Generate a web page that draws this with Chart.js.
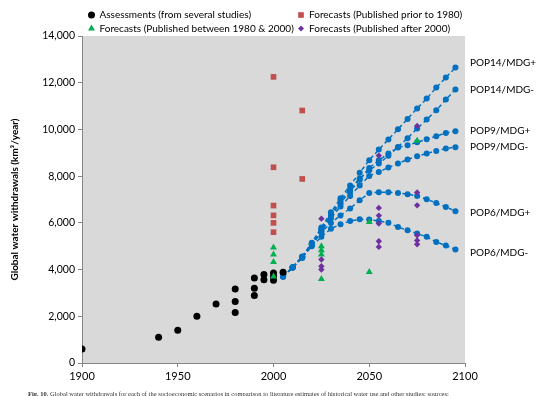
<!DOCTYPE html>
<html>
<head>
<meta charset="utf-8">
<script src="https://cdn.jsdelivr.net/npm/chart.js@4.4.1/dist/chart.umd.min.js"></script>
<style>
  html, body { margin: 0; padding: 0; background: #fff; }
  #wrap { position: relative; width: 540px; height: 396px; overflow: hidden; }
  #caption { position: absolute; left: 28px; top: 390px; white-space: nowrap;
    font: 6.5px "Liberation Serif", serif; color: #333; }
</style>
</head>
<body>
<div id="wrap">
  <canvas id="waterChart" width="540" height="396"></canvas>
  <div id="caption"><b>Fig. 10.</b> Global water withdrawals for each of the socioeconomic scenarios in comparison to literature estimates of historical water use and other studies; sources:</div>
</div>
<script>
// historical assessments
const assessYears = [1900, 1940, 1950, 1960, 1970, 1980, 1980, 1980, 1990, 1990, 1990, 1995, 1995, 2000, 2000, 2000, 2005];
const assessVals  = [600, 1100, 1400, 2000, 2530, 3170, 2630, 2160, 3640, 3200, 2890, 3790, 3560, 3850, 3700, 3540, 3890];

// forecasts published prior to 1980
const priorYears = [2000, 2000, 2000, 2000, 2000, 2000, 2015, 2015];
const priorVals  = [12250, 8380, 6740, 6320, 6000, 5600, 10810, 7880];

// forecasts published between 1980 & 2000
const midYears = [2000, 2000, 2000, 2000, 2025, 2025, 2025, 2025, 2050, 2050, 2075];
const midVals  = [4950, 4640, 4320, 3700, 5000, 4830, 4650, 3600, 6040, 3900, 9520];

// forecasts published after 2000
const lateYears = [2025, 2025, 2025, 2025, 2055, 2055, 2055, 2055, 2055, 2055, 2075, 2075, 2075, 2075, 2075, 2075];
const lateVals  = [6180, 4430, 4140, 4000, 8880, 6640, 6310, 5970, 5210, 4970, 10150, 7300, 6750, 5470, 5250, 5080];

// scenario years and values
const scenYears = [2005, 2010, 2015, 2020, 2025, 2030, 2035, 2040, 2045, 2050, 2055, 2060, 2065, 2070, 2075, 2080, 2085, 2090, 2095];
const pop14Plus  = [3700, 4100, 4560, 5150, 5800, 6450, 7050, 7600, 8150, 8680, 9140, 9570, 10010, 10450, 10900, 11320, 11790, 12220, 12650];
const pop14Minus = [3700, 4100, 4550, 5120, 5750, 6350, 6950, 7450, 7900, 8250, 8540, 8870, 9250, 9620, 10040, 10420, 10820, 11280, 11710];
const pop9Plus   = [3700, 4100, 4540, 5100, 5700, 6300, 6850, 7350, 7850, 8350, 8680, 8970, 9230, 9320, 9450, 9580, 9710, 9850, 9920];
const pop9Minus  = [3700, 4090, 4530, 5080, 5650, 6200, 6700, 7150, 7600, 8010, 8180, 8370, 8540, 8710, 8850, 8970, 9080, 9180, 9240];
const pop6Plus   = [3700, 4090, 4520, 5050, 5600, 5990, 6320, 6610, 6970, 7280, 7310, 7310, 7280, 7230, 7150, 7010, 6850, 6680, 6500];
const pop6Minus  = [3700, 4080, 4500, 5000, 5400, 5750, 5940, 6080, 6150, 6140, 6080, 6000, 5820, 5680, 5540, 5400, 5180, 5030, 4860];
const scenNames  = ['POP14/MDG+', 'POP14/MDG-', 'POP9/MDG+', 'POP9/MDG-', 'POP6/MDG+', 'POP6/MDG-'];

const xTicks = [1900, 1950, 2000, 2050, 2100];

const pts = (xs, ys) => xs.map((x, i) => ({ x: x, y: ys[i] }));

const blue = '#0070c0';
const scenSets = [pop14Plus, pop14Minus, pop9Plus, pop9Minus, pop6Plus, pop6Minus].map((vals, i) => ({
  label: scenNames[i],
  data: pts(scenYears, vals),
  showLine: true,
  borderColor: blue,
  backgroundColor: blue,
  borderWidth: 1.5,
  borderDash: [4, 3],
  pointRadius: 3,
  pointBorderWidth: 0,
  order: 5
}));

// legend entries (drawn by plugin below)
const legendItems = [
  { text: 'Assessments (from several studies)', style: 'circle', color: '#000000', rad: 3.5 },
  { text: 'Forecasts (Published prior to 1980)', style: 'rect', color: '#c0504d', rad: 4 },
  { text: 'Forecasts (Published between 1980 & 2000)', style: 'triangle', color: '#00b050', rad: 4 },
  { text: 'Forecasts (Published after 2000)', style: 'rectRot', color: '#7030a0', rad: 3 }
];

const topLegend = {
  id: 'topLegend',
  afterDraw(chart) {
    const c = chart.ctx;
    c.save();
    c.font = '10px Lato';
    c.textBaseline = 'middle';
    legendItems.forEach((it, i) => {
      const col = i % 2, row = Math.floor(i / 2);
      const mx = col ? 301 : 91.5;
      const my = row ? 28.5 : 15;
      c.fillStyle = it.color;
      c.strokeStyle = it.color;
      Chart.helpers.drawPoint(c, { pointStyle: it.style, radius: it.rad, borderWidth: 0 }, mx, my);
      c.fillStyle = '#000';
      c.fillText(it.text, mx + 8, my);
    });
    c.restore();
  }
};

// scenario names at the end of each line
const nameOffsets = [-5, 0, -1, 0, 2, 3];
const endLabels = {
  id: 'endLabels',
  afterDraw(chart) {
    const c = chart.ctx;
    const xs = chart.scales.x, ys = chart.scales.y;
    c.save();
    c.font = '10px Lato';
    c.fillStyle = '#000';
    c.textBaseline = 'middle';
    scenSets.forEach((ds, i) => {
      const last = ds.data[ds.data.length - 1];
      c.fillText(scenNames[i], xs.right + 5, ys.getPixelForValue(last.y) + nameOffsets[i]);
    });
    c.restore();
  }
};

const plotBg = {
  id: 'plotBg',
  beforeDraw(chart) {
    const a = chart.chartArea, c = chart.ctx;
    c.save();
    c.fillStyle = '#d9d9d9';
    c.fillRect(a.left, a.top, a.right - a.left, a.bottom - a.top);
    c.restore();
  }
};

const ctx = document.getElementById('waterChart');
const waterChart = new Chart(ctx, {
  type: 'scatter',
  data: {
    datasets: [
      {
        label: 'Forecasts (Published after 2000)',
        data: pts(lateYears, lateVals),
        pointStyle: 'rectRot',
        pointRadius: 3.2,
        pointBorderWidth: 0,
        backgroundColor: '#7030a0',
        order: 0
      },
      {
        label: 'Forecasts (Published between 1980 & 2000)',
        data: pts(midYears, midVals),
        pointStyle: 'triangle',
        pointRadius: 4,
        pointBorderWidth: 0,
        backgroundColor: '#00b050',
        order: 1
      },
      {
        label: 'Forecasts (Published prior to 1980)',
        data: pts(priorYears, priorVals),
        pointStyle: 'rect',
        pointRadius: 4,
        pointBorderWidth: 0,
        backgroundColor: '#c0504d',
        order: 2
      },
      {
        label: 'Assessments (from several studies)',
        data: pts(assessYears, assessVals),
        pointStyle: 'circle',
        pointRadius: 3.5,
        pointBorderWidth: 0,
        backgroundColor: '#000000',
        order: 3
      },
      ...scenSets
    ]
  },
  options: {
    responsive: false,
    animation: false,
    layout: {
      padding: { left: 0, right: 75, top: 36, bottom: 0 }
    },
    plugins: {
      legend: { display: false },
      tooltip: { enabled: false }
    },
    scales: {
      x: {
        type: 'linear',
        min: 1900,
        max: 2100,
        afterBuildTicks: (s) => { s.ticks = xTicks.map(v => ({ value: v })); },
        afterFit: (s) => { s.height = 33; },
        grid: {
          drawOnChartArea: false,
          drawTicks: true,
          tickLength: 4,
          color: '#868686'
        },
        border: { display: true, color: '#868686' },
        ticks: {
          color: '#000',
          font: { family: 'Lato', size: 11 },
          padding: 3,
          maxRotation: 0,
          callback: (v) => String(v)
        }
      },
      y: {
        min: 0,
        max: 14000,
        afterFit: (s) => { s.width = 82; },
        grid: {
          drawOnChartArea: false,
          drawTicks: true,
          tickLength: 4,
          color: '#868686'
        },
        border: { display: true, color: '#868686' },
        ticks: {
          stepSize: 2000,
          color: '#000',
          font: { family: 'Lato', size: 10.5 },
          padding: 3,
          callback: (v) => v.toLocaleString('en-US')
        },
        title: {
          display: true,
          text: 'Global water withdrawals (km³/year)',
          color: '#000',
          font: { family: 'Lato', size: 10, weight: 'bold' },
          padding: { top: 9, bottom: 4 }
        }
      }
    }
  },
  plugins: [plotBg, topLegend, endLabels]
});
</script>
</body>
</html>
